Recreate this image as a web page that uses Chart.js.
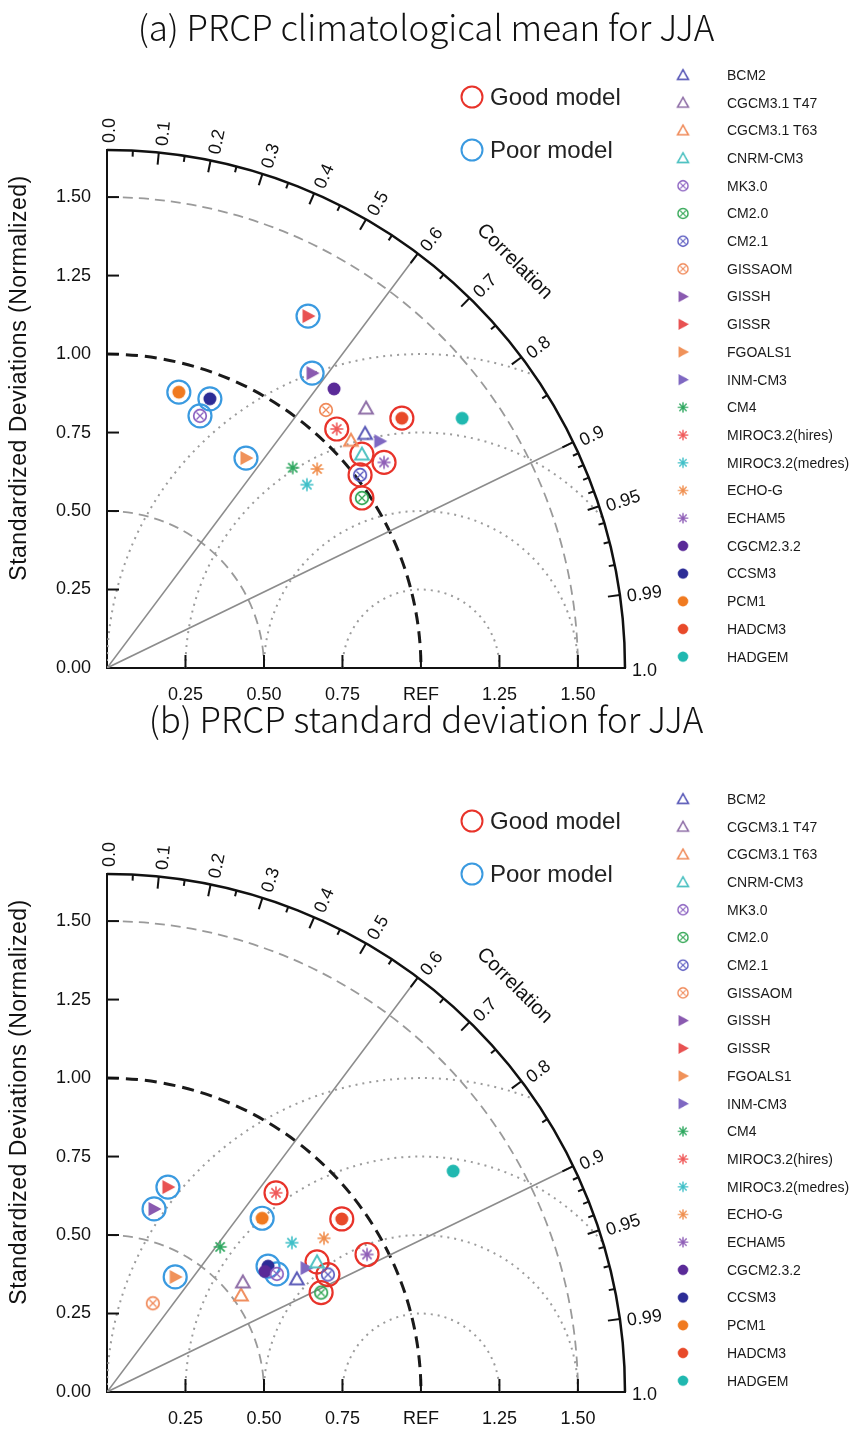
<!DOCTYPE html>
<html>
<head>
<meta charset="utf-8">
<script src="https://cdn.jsdelivr.net/npm/chart.js@4.4.1/dist/chart.umd.min.js"></script>
<style>
  html, body { margin: 0; padding: 0; background: #fff; }
  body { position: relative; width: 866px; height: 1437px; overflow: hidden; }
  canvas { position: absolute; left: 0; display: block; }
  #chartA { top: 0; }
  #chartB { top: 690px; }
</style>
</head>
<body>
<canvas id="chartA" width="866" height="730"></canvas>
<canvas id="chartB" width="866" height="747"></canvas>
<script>
// Models, their marker kind and colour
const models = ["BCM2", "CGCM3.1 T47", "CGCM3.1 T63", "CNRM-CM3", "MK3.0", "CM2.0", "CM2.1",
  "GISSAOM", "GISSH", "GISSR", "FGOALS1", "INM-CM3", "CM4", "MIROC3.2(hires)",
  "MIROC3.2(medres)", "ECHO-G", "ECHAM5", "CGCM2.3.2", "CCSM3", "PCM1", "HADCM3", "HADGEM"];
const markerKinds = ["tri", "tri", "tri", "tri", "cx", "cx", "cx", "cx", "rtri", "rtri", "rtri", "rtri",
  "star", "star", "star", "star", "star", "dot", "dot", "dot", "dot", "dot"];
const markerColors = ["#5a5ab8", "#9070a8", "#f08e5e", "#4fc2c2", "#8a60c0", "#2fa552", "#5a5ac0",
  "#f08a5a", "#8a5ab0", "#e85252", "#f0925a", "#7f68c2", "#2fa860", "#f05a5a",
  "#40c0c8", "#f09050", "#9060b8", "#5a2a98", "#2c2c96", "#f07a20", "#e84a2a", "#20b8b0"];

// (a) climatological mean: normalized std dev and correlation
const stdA = [1.111, 1.169, 1.063, 1.060, 0.856, 0.976, 1.014, 1.078, 1.144, 1.291, 0.802,
  1.130, 0.870, 1.056, 0.864, 0.922, 1.099, 1.146, 0.918, 0.908, 1.231, 1.383];
const corA = [0.740, 0.706, 0.731, 0.766, 0.346, 0.832, 0.795, 0.647, 0.571, 0.496, 0.552,
  0.769, 0.680, 0.693, 0.737, 0.726, 0.803, 0.631, 0.357, 0.252, 0.763, 0.818];

// (b) standard deviation
const stdB = [0.704, 0.557, 0.527, 0.787, 0.659, 0.752, 0.797, 0.318, 0.602, 0.681, 0.426,
  0.747, 0.586, 0.832, 0.757, 0.847, 0.937, 0.633, 0.651, 0.742, 0.929, 1.308];
const corB = [0.859, 0.777, 0.810, 0.850, 0.821, 0.907, 0.883, 0.459, 0.249, 0.285, 0.510,
  0.849, 0.615, 0.647, 0.778, 0.816, 0.884, 0.795, 0.788, 0.666, 0.805, 0.843];

const goodModels = ["CNRM-CM3", "CM2.0", "CM2.1", "MIROC3.2(hires)", "ECHAM5", "HADCM3"];
const poorModels = ["MK3.0", "GISSH", "GISSR", "FGOALS1", "CCSM3", "PCM1"];

// axes
const maxStd = 1.65;
const yTicks = [0, 0.25, 0.5, 0.75, 1.0, 1.25, 1.5];
const xTicks = [0.25, 0.5, 0.75, 1.0, 1.25, 1.5];
const corrLabels = ["0.0", "0.1", "0.2", "0.3", "0.4", "0.5", "0.6", "0.7", "0.8", "0.9", "0.95", "0.99", "1.0"];
const corrMinor = [0.05, 0.15, 0.25, 0.35, 0.45, 0.55, 0.65, 0.75, 0.85,
  0.91, 0.92, 0.93, 0.94, 0.96, 0.97, 0.98];
const stdArcs = [0.5, 1.0, 1.5];
const rmsArcs = [0.25, 0.5, 0.75, 1.0];
const radialLines = [0.6, 0.9];

const tickFont = '"Liberation Sans", Arial, sans-serif';

function markerCanvas(kind, color) {
  const c = document.createElement("canvas");
  c.width = 20;
  c.height = 20;
  const g = c.getContext("2d");
  g.strokeStyle = color;
  g.fillStyle = color;
  g.lineWidth = 2;
  g.translate(10, 10);
  if (kind === "tri") {
    g.beginPath();
    g.moveTo(0, -6.5); g.lineTo(6.8, 5.5); g.lineTo(-6.8, 5.5); g.closePath();
    g.stroke();
  } else if (kind === "cx") {
    g.lineWidth = 1.7;
    g.beginPath(); g.arc(0, 0, 6.3, 0, 2 * Math.PI); g.stroke();
    g.lineWidth = 1.3;
    g.beginPath();
    g.moveTo(-3.5, -3.5); g.lineTo(3.5, 3.5);
    g.moveTo(3.5, -3.5); g.lineTo(-3.5, 3.5);
    g.stroke();
  } else if (kind === "rtri") {
    g.beginPath();
    g.moveTo(-5.5, -7); g.lineTo(7.5, 0); g.lineTo(-5.5, 7); g.closePath();
    g.fill();
  } else if (kind === "star") {
    g.lineWidth = 1.6;
    g.beginPath();
    for (let k = 0; k < 4; k++) {
      const a = k * Math.PI / 4;
      g.moveTo(-6.5 * Math.cos(a), -6.5 * Math.sin(a));
      g.lineTo(6.5 * Math.cos(a), 6.5 * Math.sin(a));
    }
    g.stroke();
  } else {
    g.beginPath(); g.arc(0, 0, 6.5, 0, 2 * Math.PI); g.fill();
  }
  return c;
}

const markerImgs = models.map((m, i) => markerCanvas(markerKinds[i], markerColors[i]));

function toXY(s, r) {
  return { x: s * r, y: s * Math.sqrt(1 - r * r) };
}

// Taylor diagram frame, legend and titles
const taylorPlugin = {
  id: "taylor",
  beforeDatasetsDraw(chart, args, opts) {
    const { ctx, scales: { x, y } } = chart;
    const ox = x.getPixelForValue(0), oy = y.getPixelForValue(0);
    const unit = x.getPixelForValue(1) - ox;
    const R = maxStd * unit;

    ctx.save();
    ctx.beginPath();
    ctx.moveTo(ox, oy);
    ctx.arc(ox, oy, R, -Math.PI / 2, 0);
    ctx.closePath();
    ctx.clip();

    // RMS difference arcs around REF
    ctx.setLineDash([2, 5]);
    ctx.strokeStyle = "#9c9c9c";
    ctx.lineWidth = 2;
    rmsArcs.forEach(r => {
      ctx.beginPath();
      ctx.arc(x.getPixelForValue(1), oy, r * unit, Math.PI, 2 * Math.PI);
      ctx.stroke();
    });

    // std dev arcs
    stdArcs.forEach(s => {
      if (s === 1) {
        ctx.setLineDash([12, 7]);
        ctx.strokeStyle = "#1a1a1a";
        ctx.lineWidth = 3;
      } else {
        ctx.setLineDash([10, 6]);
        ctx.strokeStyle = "#9a9a9a";
        ctx.lineWidth = 1.8;
      }
      ctx.beginPath();
      ctx.arc(ox, oy, s * unit, -Math.PI / 2, 0);
      ctx.stroke();
    });

    // correlation lines
    ctx.setLineDash([]);
    ctx.strokeStyle = "#8c8c8c";
    ctx.lineWidth = 1.6;
    radialLines.forEach(c => {
      const t = Math.acos(c);
      ctx.beginPath();
      ctx.moveTo(ox, oy);
      ctx.lineTo(ox + R * Math.cos(t), oy - R * Math.sin(t));
      ctx.stroke();
    });
    ctx.restore();

    ctx.save();
    ctx.strokeStyle = "#111";
    // outer arc
    ctx.lineWidth = 2.5;
    ctx.beginPath();
    ctx.arc(ox, oy, R, -Math.PI / 2, 0);
    ctx.stroke();

    // correlation ticks
    ctx.lineWidth = 2;
    const tick = (c, len) => {
      const t = Math.acos(c);
      ctx.beginPath();
      ctx.moveTo(ox + R * Math.cos(t), oy - R * Math.sin(t));
      ctx.lineTo(ox + (R - len) * Math.cos(t), oy - (R - len) * Math.sin(t));
      ctx.stroke();
    };
    corrLabels.forEach(l => tick(parseFloat(l), 12));
    corrMinor.forEach(c => tick(c, 6));

    // axis ticks pointing inward
    yTicks.forEach(v => {
      if (v === 0) return;
      const py = y.getPixelForValue(v);
      ctx.beginPath(); ctx.moveTo(ox, py); ctx.lineTo(ox + 12, py); ctx.stroke();
    });
    xTicks.forEach(v => {
      const px = x.getPixelForValue(v);
      ctx.beginPath(); ctx.moveTo(px, oy); ctx.lineTo(px, oy - 13); ctx.stroke();
    });
    ctx.restore();
  },
  afterDraw(chart, args, opts) {
    const { ctx, scales: { x, y } } = chart;
    const ox = x.getPixelForValue(0), oy = y.getPixelForValue(0);
    const unit = x.getPixelForValue(1) - ox;
    const R = maxStd * unit;
    const off = opts.off;

    ctx.save();
    ctx.fillStyle = "#111";

    // title
    ctx.font = '300 35px "Noto Sans CJK KR", "Noto Sans", sans-serif';
    ctx.textAlign = "center";
    ctx.textBaseline = "middle";
    ctx.fillText(opts.title, 426, opts.titleY);

    // y axis title
    ctx.font = "23px " + tickFont;
    ctx.letterSpacing = "0.5px";
    ctx.save();
    ctx.translate(20, 378 + off);
    ctx.rotate(-Math.PI / 2);
    ctx.fillText("Standardized Deviations (Normalized)", 0, 0);
    ctx.restore();
    ctx.letterSpacing = "0px";

    // correlation labels
    ctx.font = "18px " + tickFont;
    ctx.textAlign = "left";
    corrLabels.forEach(l => {
      const t = Math.acos(parseFloat(l));
      const r = R + 7;
      ctx.save();
      ctx.translate(ox + r * Math.cos(t), oy - r * Math.sin(t));
      ctx.rotate(-t);
      ctx.fillText(l, 0, 3);
      ctx.restore();
    });

    // "Correlation" along the arc
    const tc = Math.acos(0.708);
    const rc = 1.833 * unit;
    ctx.save();
    ctx.translate(ox + rc * Math.cos(tc), oy - rc * Math.sin(tc));
    ctx.rotate(Math.PI / 2 - tc);
    ctx.textAlign = "center";
    ctx.font = "20px " + tickFont;
    ctx.fillText("Correlation", 0, 0);
    ctx.restore();

    // good / poor key
    ctx.font = '24px "Liberation Sans Narrow", "Liberation Sans", sans-serif';
    ctx.textAlign = "left";
    [["Good model", "#e8332a", 97], ["Poor model", "#3a9ae0", 150]].forEach(([txt, col, ky]) => {
      ctx.strokeStyle = col;
      ctx.lineWidth = 2;
      ctx.beginPath();
      ctx.arc(472, ky + off, 10.5, 0, 2 * Math.PI);
      ctx.stroke();
      ctx.fillStyle = "#222";
      ctx.fillText(txt, 490, ky + off + 1);
    });

    // model legend
    ctx.font = "14px " + tickFont;
    ctx.fillStyle = "#1a1a1a";
    models.forEach((m, i) => {
      const ly = 75 + off + i * 27.7;
      ctx.drawImage(markerImgs[i], 675, ly - 8, 16, 16);
      ctx.fillText(m, 727, ly + 1);
    });
    ctx.restore();
  }
};

function buildChart(id, title, stds, cors, off, titleY) {
  const canvas = document.getElementById(id);
  const H = canvas.height;
  const modelSets = models.map((m, i) => ({
    label: m,
    data: [toXY(stds[i], cors[i])],
    pointStyle: markerImgs[i],
    pointRadius: 6,
    clip: false
  }));
  const ring = (names, color) => ({
    label: color,
    data: names.map(n => {
      const i = models.indexOf(n);
      return toXY(stds[i], cors[i]);
    }),
    pointStyle: "circle",
    pointRadius: 11.5,
    pointBorderWidth: 2.2,
    pointBorderColor: color,
    pointBackgroundColor: "rgba(0,0,0,0)",
    clip: false
  });

  return new Chart(canvas, {
    type: "scatter",
    data: {
      datasets: modelSets.concat([ring(goodModels, "#e8332a"), ring(poorModels, "#3a9ae0")])
    },
    options: {
      responsive: false,
      maintainAspectRatio: false,
      animation: false,
      events: [],
      devicePixelRatio: 1,
      layout: { padding: { top: 150 + off, right: 241, left: 0, bottom: 0 } },
      plugins: {
        legend: { display: false },
        tooltip: { enabled: false },
        taylor: { title: title, off: off, titleY: titleY }
      },
      scales: {
        x: {
          type: "linear",
          min: 0,
          max: maxStd,
          grid: { display: false },
          border: { display: true, color: "#111", width: 2 },
          afterBuildTicks: s => { s.ticks = xTicks.map(v => ({ value: v })); },
          afterFit: s => { s.height = H - (668 + off); },
          ticks: {
            autoSkip: false,
            maxRotation: 0,
            padding: 8,
            color: "#111",
            font: { family: tickFont, size: 18 },
            callback: v => (v === 1 ? "REF" : v.toFixed(2))
          }
        },
        y: {
          type: "linear",
          min: 0,
          max: maxStd,
          grid: { display: false },
          border: { display: true, color: "#111", width: 2 },
          afterBuildTicks: s => { s.ticks = yTicks.map(v => ({ value: v })); },
          afterFit: s => { s.width = 107; },
          ticks: {
            autoSkip: false,
            padding: 8,
            color: "#111",
            font: { family: tickFont, size: 18 },
            callback: v => v.toFixed(2)
          }
        }
      }
    },
    plugins: [taylorPlugin]
  });
}

buildChart("chartA", "(a) PRCP climatological mean for JJA", stdA, corA, 0, 28);
buildChart("chartB", "(b) PRCP standard deviation for JJA", stdB, corB, 34, 30);
</script>
</body>
</html>
